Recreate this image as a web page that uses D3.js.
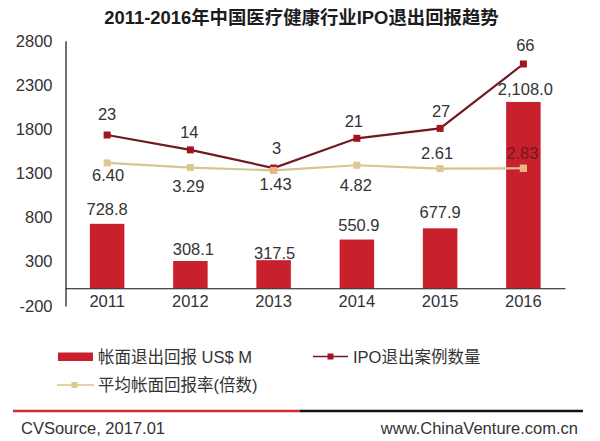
<!DOCTYPE html>
<html><head><meta charset="utf-8">
<script src="https://cdn.jsdelivr.net/npm/d3@7/dist/d3.min.js"></script>
<style>
html,body{margin:0;padding:0;background:#fff}
svg{display:block}
text{font-family:"Liberation Sans","Noto Sans CJK SC",sans-serif;fill:#333}
</style></head><body>
<svg id="c" width="600" height="441"></svg>
<script>
const years = ["2011","2012","2013","2014","2015","2016"];
const exitReturn = [728.8,308.1,317.5,550.9,677.9,2108.0];
const ipoCount = [23,14,3,21,27,66];
const avgMultiple = [6.40,3.29,1.43,4.82,2.61,2.83];
const yTicks = [-200,300,800,1300,1800,2300,2800];
const titleText = "2011-2016年中国医疗健康行业IPO退出回报趋势";
const legendBar = "帐面退出回报 US$ M";
const legendIpo = "IPO退出案例数量";
const legendAvg = "平均帐面回报率(倍数)";
const sourceText = "CVSource, 2017.01";
const siteText = "www.ChinaVenture.com.cn";

// label nudges relative to the mark (layout only)
const barLabelDy = [-15,-12,-7,-15,-16,-13];
const barLabelDx = [0,3,1,2,0,2];
const ipoLabelDy = [-21,-18,-20,-17,-17,-19];
const ipoLabelDx = [0,-1,3,-3,1,2];
const avgLabelDy = [12,18,14,20,-16,-15];
const avgLabelDx = [1,-2,2,-1,-3,-1];

const FS = 16.5;
const svg = d3.select("#c");
const x = d3.scaleBand().domain(years).range([65.5,565]).padding(0);
const y = d3.scaleLinear().domain([-200,2800]).range([305.9,40.8]);
const yIpo = d3.scaleLinear().domain([0,66]).range([173,64]);
const yAvg = d3.scaleLinear().domain([0,10]).range([172.5,157.5]);
const cx = d => x(d)+x.bandwidth()/2;
const barW = 34.5;
const barColor = "#c8202c", ipoLine = "#6e1a22", ipoMark = "#a3141f", avgLine = "#d8c491", avgMark = "#dcc98f";

svg.append("text").attr("x",301.5).attr("y",23.5).attr("text-anchor","middle")
  .attr("font-size",18.4).attr("font-weight","bold").style("fill","#1c1c1c").text(titleText);

// bars
svg.append("g").selectAll("rect").data(exitReturn).join("rect")
  .attr("x",(d,i)=>cx(years[i])-barW/2).attr("width",barW)
  .attr("y",d=>y(d)).attr("height",d=>y(0)-y(d)).attr("fill",barColor);

// axes
const yAxis = svg.append("g").attr("transform","translate(65.5,0)")
  .call(d3.axisLeft(y).tickValues(yTicks).tickFormat(d=>String(d)).tickSize(0).tickPadding(13));
const xAxis = svg.append("g").attr("transform",`translate(0,${y(0)})`)
  .call(d3.axisBottom(x).tickSize(0).tickPadding(7));
[yAxis,xAxis].forEach(a=>{
  a.attr("font-family",null);
  a.selectAll("path").attr("stroke","#111").attr("stroke-width",1.2);
  a.selectAll("text").attr("font-size",FS);
});

// lines
function drawLine(vals, sc, line, mark, size, width){
  const gen = d3.line().x((d,i)=>cx(years[i])).y(d=>sc(d));
  svg.append("path").attr("d",gen(vals)).attr("fill","none").attr("stroke",line).attr("stroke-width",width);
  svg.append("g").selectAll("rect").data(vals).join("rect")
    .attr("x",(d,i)=>cx(years[i])-size/2).attr("y",d=>sc(d)-size/2)
    .attr("width",size).attr("height",size).attr("fill",mark);
}
drawLine(avgMultiple,yAvg,avgLine,avgMark,7,2.2);
drawLine(ipoCount,yIpo,ipoLine,ipoMark,7,2.2);
// the 2013 and 2016 beige points sit on top in the source
svg.append("g").selectAll("rect").data([2,5]).join("rect")
  .attr("x",i=>cx(years[i])-3.5).attr("y",i=>yAvg(avgMultiple[i])-3.5)
  .attr("width",7).attr("height",7).attr("fill","#eeb77f");

// data labels
function labels(vals, sc, fmt, dx, dy, color){
  const g = svg.append("g");
  g.selectAll("text").data(vals).join("text")
    .attr("x",(d,i)=>cx(years[i])+dx[i]).attr("y",(d,i)=>sc(d)+dy[i])
    .attr("text-anchor","middle").attr("dominant-baseline","central")
    .attr("font-size",FS).style("fill",(d,i)=>color(i)).text(fmt);
}
labels(exitReturn,y,d3.format(",.1f"),barLabelDx,barLabelDy,()=>"#333");
labels(ipoCount,yIpo,d3.format("d"),ipoLabelDx,ipoLabelDy,()=>"#333");
labels(avgMultiple,yAvg,d3.format(".2f"),avgLabelDx,avgLabelDy,i=>i===5?"#6e1a20":"#333");

// legend
const lg = svg.append("g");
lg.append("rect").attr("x",58).attr("y",352.5).attr("width",35).attr("height",8.5).attr("fill",barColor);
lg.append("text").attr("x",98).attr("y",362.5).attr("font-size",FS).text(legendBar);
lg.append("line").attr("x1",313).attr("x2",348).attr("y1",356.5).attr("y2",356.5).attr("stroke",ipoLine).attr("stroke-width",1.5);
lg.append("rect").attr("x",327.5).attr("y",353.5).attr("width",6).attr("height",6).attr("fill",ipoMark);
lg.append("text").attr("x",353).attr("y",362.5).attr("font-size",FS).text(legendIpo);
lg.append("line").attr("x1",57).attr("x2",94).attr("y1",385).attr("y2",385).attr("stroke",avgLine).attr("stroke-width",1.5);
lg.append("rect").attr("x",71.5).attr("y",382).attr("width",6).attr("height",6).attr("fill",avgMark);
lg.append("text").attr("x",98).attr("y",391).attr("font-size",FS).text(legendAvg);

// footer
svg.append("line").attr("x1",13).attr("x2",300).attr("y1",411).attr("y2",411).attr("stroke","#cc2a30").attr("stroke-width",2.6);
svg.append("line").attr("x1",300).attr("x2",583).attr("y1",411).attr("y2",411).attr("stroke","#111").attr("stroke-width",2.6);
svg.append("text").attr("x",21).attr("y",433.5).attr("font-size",FS).text(sourceText);
svg.append("text").attr("x",578).attr("y",433.5).attr("text-anchor","end").attr("font-size",FS).text(siteText);
</script>
</body></html>
